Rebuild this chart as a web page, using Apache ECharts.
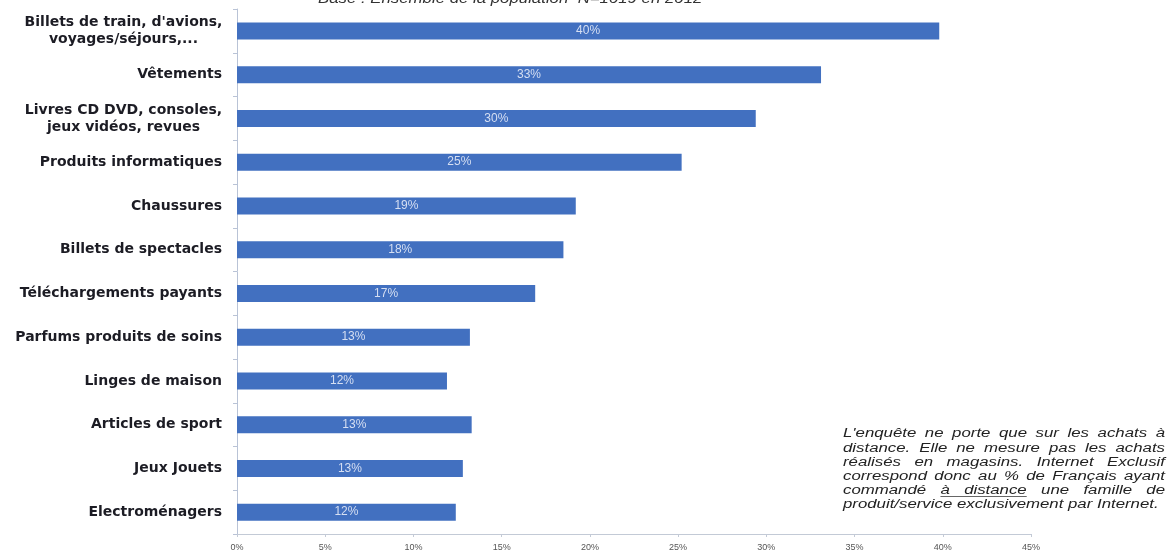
<!DOCTYPE html>
<html>
<head>
<meta charset="utf-8">
<script src="https://cdn.jsdelivr.net/npm/echarts@6/dist/echarts.min.js"></script>
<style>
html, body { margin: 0; padding: 0; background: #fff; }
#chart { width: 1171px; height: 558px; }
</style>
</head>
<body>
<div id="chart"></div>
<script>
// catégories (de haut en bas)
var categories = [
    'Billets de train, d\'avions,\nvoyages/séjours,...',
    'Vêtements',
    'Livres CD DVD, consoles,\njeux vidéos, revues',
    'Produits informatiques',
    'Chaussures',
    'Billets de spectacles',
    'Téléchargements payants',
    'Parfums produits de soins',
    'Linges de maison',
    'Articles de sport',
    'Jeux Jouets',
    'Electroménagers'
];

// longueurs des barres (%)
var values = [39.8, 33.1, 29.4, 25.2, 19.2, 18.5, 16.9, 13.2, 11.9, 13.3, 12.8, 12.4];

// étiquettes affichées dans les barres
var pctLabels = ['40%', '33%', '30%', '25%', '19%', '18%', '17%', '13%', '12%', '13%', '13%', '12%'];

var titleText = 'Base : Ensemble de la population  N=1019 en 2012';

var noteLines = [
    'L\'enquête ne porte que sur les achats à',
    'distance. Elle ne mesure pas les achats',
    'réalisés en magasins. Internet Exclusif',
    'correspond donc au % de Français ayant',
    'commandé à distance une famille de',
    'produit/service exclusivement par Internet.'
];

var labelFont = '"DejaVu Sans", Verdana, sans-serif';
var textFont = '"Liberation Sans", Arial, sans-serif';

// texte justifié de la note (mots placés un à un)
var measureCtx = document.createElement('canvas').getContext('2d');
function buildNote(x, y, width, lineH, font, scaleX) {
    measureCtx.font = font;
    var children = [];
    noteLines.forEach(function (line, i) {
        var words = line.split(' ');
        var widths = words.map(function (w) { return measureCtx.measureText(w).width; });
        var total = widths.reduce(function (a, b) { return a + b; }, 0);
        var last = i === noteLines.length - 1;
        var gap = last ? measureCtx.measureText(' ').width : (width - total) / (words.length - 1);
        var cx = 0;
        var ulStart = null;
        words.forEach(function (w, j) {
            children.push({
                type: 'text', x: cx, y: i * lineH,
                style: { text: w, font: font, fill: '#222', verticalAlign: 'top' }
            });
            // "à distance" souligné
            if (i === 4 && w === 'à') ulStart = cx;
            if (i === 4 && w === 'distance') {
                children.push({
                    type: 'line',
                    shape: { x1: ulStart, y1: i * lineH + 11.5, x2: cx + widths[j], y2: i * lineH + 11.5 },
                    style: { stroke: '#333', lineWidth: 0.8 }
                });
            }
            cx += widths[j] + gap;
        });
    });
    return { type: 'group', x: x, y: y, scaleX: scaleX, children: children };
}

var chart = echarts.init(document.getElementById('chart'));

var option = {
    backgroundColor: '#fff',
    animation: false,
    grid: { left: 237, right: 140, top: 9, bottom: 24, containLabel: false },
    xAxis: {
        type: 'value',
        min: 0,
        max: 45,
        interval: 5,
        axisLine: { show: true, lineStyle: { color: '#c3cad6', width: 1 } },
        axisTick: { show: true, length: 3, lineStyle: { color: '#c3cad6' } },
        splitLine: { show: false },
        axisLabel: {
            formatter: '{value}%',
            color: '#555',
            fontSize: 9,
            fontFamily: textFont,
            margin: 9
        }
    },
    yAxis: {
        type: 'category',
        data: categories,
        inverse: true,
        axisLine: { show: true, lineStyle: { color: '#b9c3d6', width: 1 } },
        axisTick: { show: true, length: 4, lineStyle: { color: '#b9c3d6' } },
        axisLabel: {
            margin: 15,
            color: '#1c1c24',
            fontSize: 14,
            fontWeight: 'bold',
            fontFamily: labelFont,
            lineHeight: 17,
            formatter: function (v) {
                if (v.indexOf('\n') < 0) return v;
                return v.split('\n').map(function (l) { return '{c|' + l + '}'; }).join('\n');
            },
            rich: {
                c: {
                    width: 197,
                    align: 'center',
                    color: '#1c1c24',
                    fontSize: 14,
                    fontWeight: 'bold',
                    fontFamily: labelFont,
                    lineHeight: 17
                }
            }
        }
    },
    series: [{
        type: 'bar',
        data: values,
        barWidth: 17,
        itemStyle: { color: '#4270c0' },
        label: {
            show: true,
            position: 'inside',
            color: '#d6dff2',
            fontSize: 12,
            fontFamily: textFont,
            formatter: function (p) { return pctLabels[p.dataIndex]; }
        }
    }],
    graphic: [{
        type: 'text',
        x: 318,
        y: -8,
        scaleX: 1.2,
        style: {
            text: titleText,
            font: 'italic 14px ' + textFont,
            fill: '#333',
            verticalAlign: 'top'
        }
    }, buildNote(843, 428, 230, 14.2, 'italic 12px ' + textFont, 1.4)]
};

chart.setOption(option);
</script>
</body>
</html>
